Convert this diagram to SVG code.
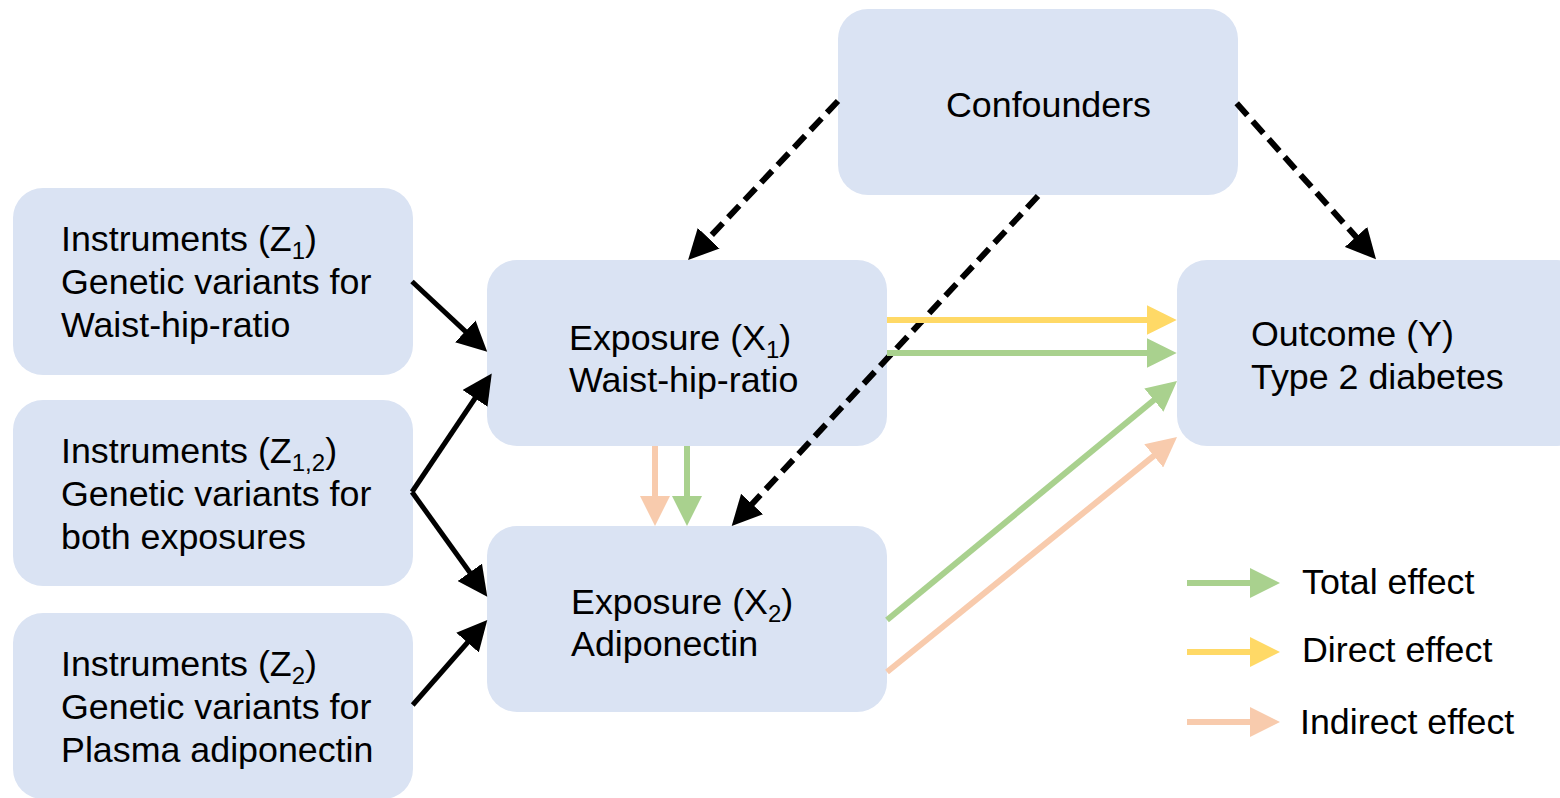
<svg xmlns="http://www.w3.org/2000/svg" width="1560" height="798" viewBox="0 0 1560 798">
<style>
.box{fill:#DAE3F3}
text{font-family:"Liberation Sans",Arial,sans-serif;font-size:35.8px;fill:#000}
.sub{font-size:24px}
.blk{stroke:#000;stroke-width:5;fill:none}
.dash{stroke:#000;stroke-width:6;fill:none;stroke-dasharray:16 8}
.g{stroke:#A9D18E;stroke-width:6;fill:none}
.y{stroke:#FFD966;stroke-width:6;fill:none}
.p{stroke:#F8CBAD;stroke-width:6;fill:none}
</style>
<defs>
<marker id="ab" markerUnits="userSpaceOnUse" markerWidth="30" markerHeight="30" refX="10" refY="15" orient="auto"><path d="M0,0 L30,15 L0,30 z" fill="#000"/></marker>
<marker id="ag" markerUnits="userSpaceOnUse" markerWidth="30" markerHeight="30" refX="10" refY="15" orient="auto"><path d="M0,0 L30,15 L0,30 z" fill="#A9D18E"/></marker>
<marker id="ay" markerUnits="userSpaceOnUse" markerWidth="30" markerHeight="30" refX="10" refY="15" orient="auto"><path d="M0,0 L30,15 L0,30 z" fill="#FFD966"/></marker>
<marker id="ap" markerUnits="userSpaceOnUse" markerWidth="30" markerHeight="30" refX="10" refY="15" orient="auto"><path d="M0,0 L30,15 L0,30 z" fill="#F8CBAD"/></marker>
</defs>

<g id="z1">
<rect class="box" x="13" y="188" width="400" height="187" rx="30"/>
<text x="61" y="251">Instruments (Z<tspan class="sub" dy="8">1</tspan><tspan dy="-8">)</tspan></text>
<text x="61" y="294">Genetic variants for</text>
<text x="61" y="337">Waist-hip-ratio</text>
</g>
<g id="z12">
<rect class="box" x="13" y="400" width="400" height="186" rx="30"/>
<text x="61" y="463">Instruments (Z<tspan class="sub" dy="8">1,2</tspan><tspan dy="-8">)</tspan></text>
<text x="61" y="506">Genetic variants for</text>
<text x="61" y="549">both exposures</text>
</g>
<g id="z2">
<rect class="box" x="13" y="613" width="400" height="186" rx="30"/>
<text x="61" y="676">Instruments (Z<tspan class="sub" dy="8">2</tspan><tspan dy="-8">)</tspan></text>
<text x="61" y="719">Genetic variants for</text>
<text x="61" y="762">Plasma adiponectin</text>
</g>
<g id="x1">
<rect class="box" x="487" y="260" width="400" height="186" rx="30"/>
<text x="569" y="350">Exposure (X<tspan class="sub" dy="8">1</tspan><tspan dy="-8">)</tspan></text>
<text x="569" y="392">Waist-hip-ratio</text>
</g>
<g id="x2">
<rect class="box" x="487" y="526" width="400" height="186" rx="30"/>
<text x="571" y="614">Exposure (X<tspan class="sub" dy="8">2</tspan><tspan dy="-8">)</tspan></text>
<text x="571" y="656">Adiponectin</text>
</g>
<g id="conf">
<rect class="box" x="838" y="9" width="400" height="186" rx="30"/>
<text x="946" y="117">Confounders</text>
</g>
<g id="outcome">
<rect class="box" x="1177" y="260" width="410" height="186" rx="30"/>
<text x="1251" y="346">Outcome (Y)</text>
<text x="1251" y="389">Type 2 diabetes</text>
</g>

<g id="connectors">
<line class="blk" x1="412" y1="281.5" x2="472.6" y2="338.2" marker-end="url(#ab)"/>
<line class="blk" x1="412" y1="492" x2="480.6" y2="390" marker-end="url(#ab)"/>
<line class="blk" x1="412" y1="492" x2="475.6" y2="580.5" marker-end="url(#ab)"/>
<line class="blk" x1="412.7" y1="705" x2="474.1" y2="635" marker-end="url(#ab)"/>
<line class="dash" x1="838" y1="101" x2="701.8" y2="245.5" marker-end="url(#ab)"/>
<line class="dash" x1="1236.7" y1="103.3" x2="1362.7" y2="244.4" marker-end="url(#ab)"/>
<line class="dash" x1="1038" y1="196" x2="745.3" y2="511.3" marker-end="url(#ab)"/>
<line class="y" x1="887" y1="320" x2="1156.7" y2="320" marker-end="url(#ay)"/>
<line class="g" x1="887" y1="353" x2="1156.7" y2="353" marker-end="url(#ag)"/>
<line class="p" x1="655" y1="446" x2="655" y2="506" marker-end="url(#ap)"/>
<line class="g" x1="687" y1="446" x2="687" y2="506" marker-end="url(#ag)"/>
<line class="g" x1="887" y1="620" x2="1161.6" y2="393.7" marker-end="url(#ag)"/>
<line class="p" x1="887" y1="672" x2="1161.5" y2="449.6" marker-end="url(#ap)"/>
</g>

<g id="legend">
<line class="g" x1="1187" y1="583" x2="1260" y2="583" marker-end="url(#ag)"/>
<line class="y" x1="1187" y1="652" x2="1260" y2="652" marker-end="url(#ay)"/>
<line class="p" x1="1187" y1="722" x2="1260" y2="722" marker-end="url(#ap)"/>
<text x="1302" y="594">Total effect</text>
<text x="1302" y="662">Direct effect</text>
<text x="1300" y="734">Indirect effect</text>
</g>
</svg>
